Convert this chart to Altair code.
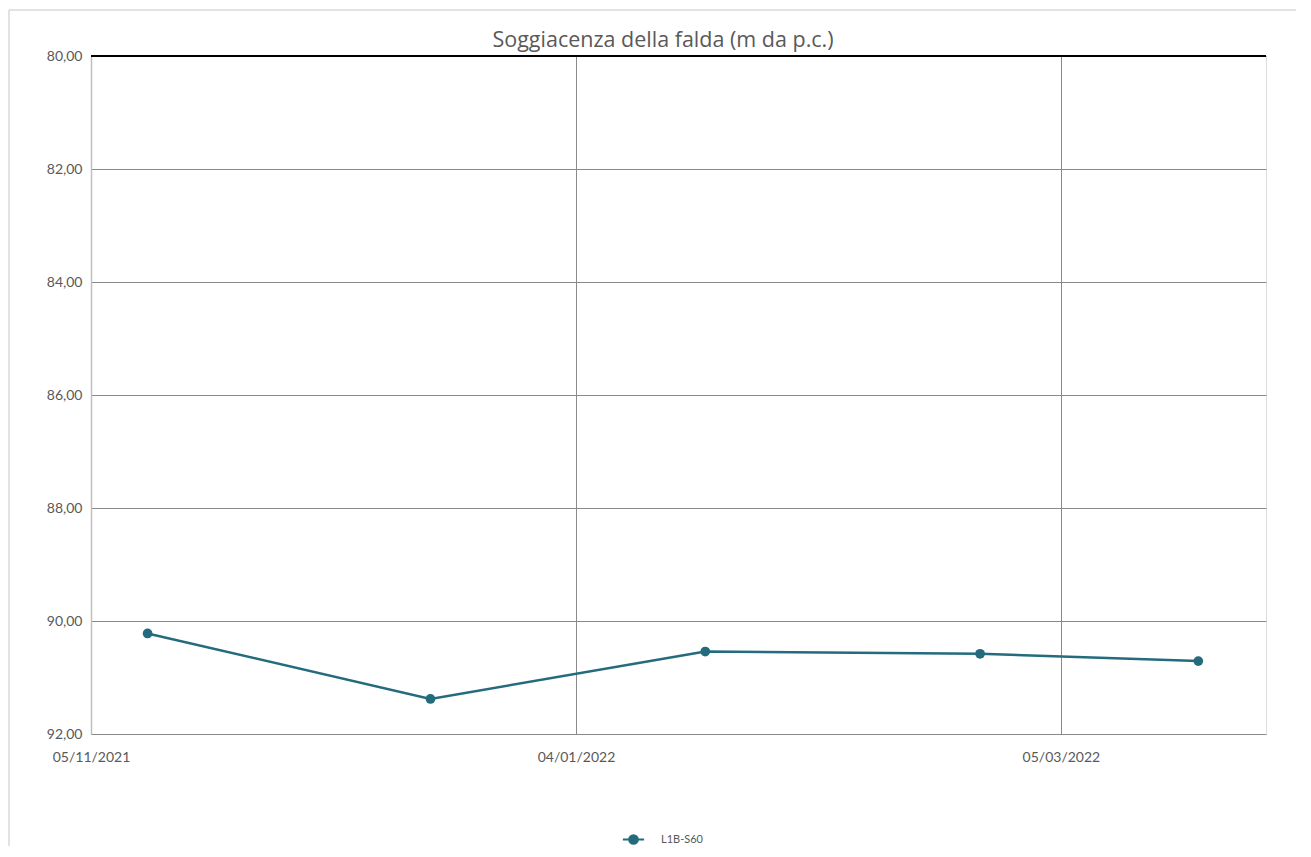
import altair as alt
import pandas as pd

# ---- data ----
dates = ["2021-11-12", "2021-12-17", "2022-01-20", "2022-02-23", "2022-03-22"]
values = [90.22, 91.38, 90.54, 90.58, 90.71]
series = ["L1B-S60"] * len(dates)
x_ticks = ["2021-11-05", "2022-01-04", "2022-03-05"]
x_domain = ["2021-11-05", "2022-03-30 09:00"]
y_ticks = [80, 82, 84, 86, 88, 90, 92]
title_text = ["Soggiacenza della falda (m da p.c.)"]

def ms(s):
    return int(pd.Timestamp(s, tz="UTC").value // 10**6)

df = pd.DataFrame({"date": [ms(d) for d in dates], "value": values, "serie": series})

FONT = "Lato"
TXT = "#595959"
LINE = "#236B7D"
legend_path = "M-1.5,0H1.5M-0.6,0A0.6,0.6 0 1,0 0.6,0A0.6,0.6 0 1,0 -0.6,0Z"

x_enc = alt.X(
    "date:T",
    scale=alt.Scale(type="utc", domain=[ms(d) for d in x_domain], nice=False),
    axis=alt.Axis(
        values=[ms(d) for d in x_ticks],
        labelExpr="utcFormat(datum.value, '%d/%m/%Y')",
        title=None, grid=True, gridColor="#8a8a8a", gridWidth=1,
        domain=False, ticks=False, labelPadding=16, labelFontSize=14,
        labelColor=TXT, labelFont=FONT, labelFlush=False,
    ),
)
y_enc = alt.Y(
    "value:Q",
    scale=alt.Scale(domain=[80, 92], reverse=True, nice=False, zero=False),
    axis=alt.Axis(
        values=y_ticks,
        labelExpr="replace(format(datum.value, '.2f'), '.', ',')",
        title=None, grid=True, gridColor="#8a8a8a", gridWidth=1,
        domain=True, domainColor="#bfbfbf", domainWidth=1.5,
        ticks=False, labelPadding=9, labelFontSize=14,
        labelColor=TXT, labelFont=FONT,
    ),
)
color_enc = alt.Color(
    "serie:N",
    scale=alt.Scale(range=[LINE]),
    legend=alt.Legend(
        title=None, orient="none", legendX=534, legendY=775,
        symbolType=legend_path, symbolSize=200, symbolStrokeWidth=2.2,
        symbolFillColor=LINE, symbolStrokeColor=LINE,
        labelFont=FONT, labelFontSize=11, labelColor=TXT, labelOffset=19,
    ),
)

base = alt.Chart(df)
line = base.mark_line(strokeWidth=2.5).encode(x=x_enc, y=y_enc, color=color_enc)
pts = base.mark_circle(size=95, opacity=1).encode(
    x="date:T", y="value:Q", color=alt.Color("serie:N", legend=None)
)

top_line = alt.Chart(pd.DataFrame({"v": [80]})).mark_rule(color="#000000", strokeWidth=2).encode(
    y="v:Q", x=alt.value(0), x2=alt.value(1175)
)
frame_left = alt.Chart(pd.DataFrame({"v": [0]})).mark_rule(color="#d9d9d9", strokeWidth=1.5).encode(
    x=alt.value(-82), y=alt.value(-46), y2=alt.value(800)
)
frame_top = alt.Chart(pd.DataFrame({"v": [0]})).mark_rule(color="#d9d9d9", strokeWidth=1.5).encode(
    x=alt.value(-82), x2=alt.value(1215), y=alt.value(-46)
)
title = alt.Chart(pd.DataFrame({"t": title_text})).mark_text(
    font="Open Sans", fontSize=21.5, color=TXT, align="center", baseline="middle"
).encode(text="t:N", x=alt.value(572), y=alt.value(-15))

chart = (
    alt.layer(line, pts, top_line, frame_left, frame_top, title)
    .properties(
        width=1175, height=678,
        autosize=alt.AutoSizeParams(type="none"),
        padding={"left": 83, "top": 48, "right": 30, "bottom": 112},
    )
    .configure_view(stroke="#8f8f8f", strokeWidth=1.5)
    .configure(background="white")
)

chart.save("out.html", embed_options={"renderer": "svg", "actions": False})
